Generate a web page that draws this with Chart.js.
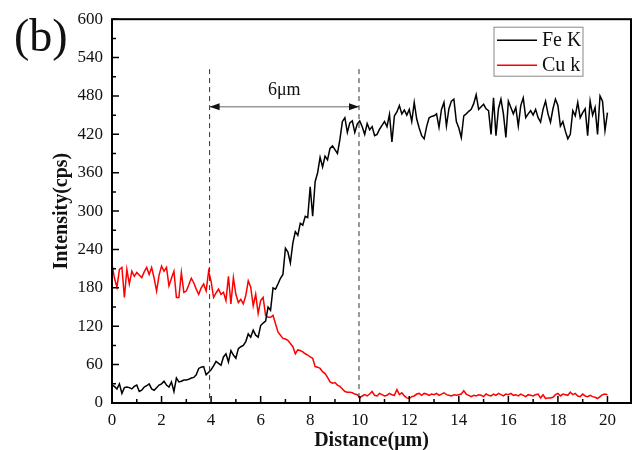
<!DOCTYPE html>
<html lang="en">
<head>
  <meta charset="UTF-8">
  <title>Fe K / Cu k line scan</title>
  <script src="https://cdn.jsdelivr.net/npm/chart.js"></script>
  <style>
    body { margin: 0; background: white; }
    .wrap { position: relative; width: 633px; height: 450px; }
    .panel-label { position: absolute; left: 14px; top: 13px; font-family: 'Liberation Serif', serif; font-size: 46px; line-height: 1; color: #111; }
  </style>
</head>
<body>
  <div class="wrap">
    <canvas id="scanChart" width="633" height="450"></canvas>
    <div class="panel-label">(b)</div>
  </div>

  <script>
    // x grid of the line scan, 0.1 µm steps
    const distance = Array.from({ length: 201 }, (_, i) => +(i * 0.1).toFixed(1));

    const feK = [
      28, 26, 22, 30, 15, 24, 25, 24, 22, 26,
      28, 18, 20, 25, 27, 30, 22, 20, 24, 28,
      30, 34, 28, 25, 33, 18, 39, 33, 34, 36,
      36, 37, 39, 40, 44, 54, 56, 57, 44, 48,
      52, 58, 65, 62, 59, 72, 77, 64, 82, 75,
      70, 85, 88, 90, 96, 108, 103, 114, 106, 103,
      121, 125, 128, 150, 145, 180, 178, 186, 195, 201,
      242, 236, 219, 250, 268, 262, 281, 278, 292, 290,
      338, 292, 346, 360, 384, 369, 386, 380, 398, 402,
      396, 390, 412, 440, 446, 423, 438, 441, 423, 436,
      441, 432, 420, 437, 427, 432, 418, 420, 428, 434,
      440, 432, 451, 408, 449, 455, 465, 452, 458, 450,
      459, 440, 470, 444, 430, 418, 413, 432, 446, 448,
      449, 452, 431, 459, 470, 433, 460, 472, 475, 440,
      430, 415, 449, 452, 456, 459, 468, 482, 459, 463,
      467, 460, 457, 420, 477, 418, 460, 475, 452, 415,
      472, 462, 452, 462, 433, 465, 477, 446, 452, 457,
      450, 459, 446, 439, 459, 472, 452, 439, 460, 475,
      465, 433, 440, 425, 413, 420, 457, 449, 470, 446,
      454, 460, 418, 472, 450, 462, 420, 480, 472, 426,
      454
    ];

    const cuK = [
      217, 195, 181, 209, 212, 165, 209, 186, 206, 198,
      204, 200, 196, 205, 212, 201, 212, 195, 175, 200,
      214, 206, 212, 183, 195, 206, 165, 165, 204, 173,
      175, 185, 195, 188, 178, 170, 180, 186, 175, 206,
      190, 165, 172, 178, 170, 173, 160, 198, 155, 196,
      170, 157, 162, 155, 168, 191, 181, 152, 170, 140,
      160, 165, 137, 134, 134, 137, 124, 111, 106, 101,
      100, 98, 93, 88, 77, 83, 82, 80, 77, 75,
      72, 70, 57, 56, 54, 49, 46, 40, 33, 31,
      32, 28, 26, 22, 18, 17, 17, 16, 14, 13,
      8, 11, 13, 11, 14, 18, 12, 11, 15, 13,
      11, 12, 15, 13, 12, 21, 13, 16, 11, 8,
      7, 10, 11, 14, 15, 12, 15, 14, 12, 14,
      13, 15, 12, 14, 16, 13, 12, 11, 13, 12,
      13, 14, 19, 14, 12, 10, 12, 11, 13, 12,
      10, 14, 12, 11, 14, 12, 15, 13, 11, 14,
      13, 15, 12, 13, 11, 14, 12, 10, 13, 12,
      11, 13, 14, 8, 13, 7, 8, 8, 9, 13,
      15, 11, 14, 13, 12, 17, 13, 15, 11, 10,
      14, 11, 10, 12, 10, 9, 7, 10, 13, 14,
      13
    ];

    const xTicks = [0, 2, 4, 6, 8, 10, 12, 14, 16, 18, 20];
    const yTicks = [0, 60, 120, 180, 240, 300, 360, 420, 480, 540, 600];
    const seriesNames = ['Fe K', 'Cu k'];
    const seriesColors = ['#000000', '#ff0000'];

    // interface markers and the 6 µm span
    const boundaries = [3.94, 9.97];
    const boundaryTop = 522;
    const spanLevel = 463;
    const spanLabel = '6μm';

    const serif = "'Liberation Serif', 'Times New Roman', serif";

    const framePlugin = {
      id: 'frame',
      afterDatasetsDraw(chart) {
        const { ctx, chartArea: a, scales: { x, y } } = chart;
        ctx.save();

        // dashed boundaries
        ctx.strokeStyle = '#333';
        ctx.lineWidth = 1;
        ctx.setLineDash([5, 4]);
        boundaries.forEach(b => {
          const px = x.getPixelForValue(b);
          ctx.beginPath();
          ctx.moveTo(px, y.getPixelForValue(boundaryTop));
          ctx.lineTo(px, y.getPixelForValue(0));
          ctx.stroke();
        });
        ctx.setLineDash([]);

        // double arrow
        const ay = y.getPixelForValue(spanLevel);
        const x1 = x.getPixelForValue(boundaries[0]);
        const x2 = x.getPixelForValue(boundaries[1]);
        ctx.strokeStyle = '#666';
        ctx.fillStyle = '#111';
        ctx.beginPath();
        ctx.moveTo(x1, ay);
        ctx.lineTo(x2, ay);
        ctx.stroke();
        ctx.beginPath();
        ctx.moveTo(x1, ay); ctx.lineTo(x1 + 10, ay - 3.5); ctx.lineTo(x1 + 10, ay + 3.5); ctx.closePath();
        ctx.moveTo(x2, ay); ctx.lineTo(x2 - 10, ay - 3.5); ctx.lineTo(x2 - 10, ay + 3.5); ctx.closePath();
        ctx.fill();

        ctx.font = '18px ' + serif;
        ctx.fillStyle = '#111';
        ctx.textAlign = 'center';
        ctx.textBaseline = 'bottom';
        ctx.fillText(spanLabel, (x1 + x2) / 2, ay - 8);

        // box around plot
        ctx.strokeStyle = '#000';
        ctx.lineWidth = 2;
        ctx.strokeRect(a.left, a.top, a.right - a.left, a.bottom - a.top);

        // inward ticks, bottom and left only
        ctx.lineWidth = 1.5;
        ctx.beginPath();
        for (let v = 0; v <= 20; v++) {
          const px = x.getPixelForValue(v);
          const len = v % 2 === 0 ? 7 : 4;
          ctx.moveTo(px, a.bottom);
          ctx.lineTo(px, a.bottom - len);
        }
        for (let v = 0; v <= 600; v += 30) {
          const py = y.getPixelForValue(v);
          const len = v % 60 === 0 ? 7 : 4;
          ctx.moveTo(a.left, py);
          ctx.lineTo(a.left + len, py);
        }
        ctx.stroke();

        // legend box
        const lx = a.right - 137, ly = a.top + 8;
        ctx.strokeStyle = '#888';
        ctx.lineWidth = 1;
        ctx.strokeRect(lx, ly, 89, 49);
        ctx.font = '20px ' + serif;
        ctx.textAlign = 'left';
        ctx.textBaseline = 'middle';
        seriesNames.forEach((name, i) => {
          const ry = ly + 13 + i * 25;
          ctx.strokeStyle = seriesColors[i];
          ctx.lineWidth = 1.5;
          ctx.beginPath();
          ctx.moveTo(lx + 3, ry);
          ctx.lineTo(lx + 43, ry);
          ctx.stroke();
          ctx.fillStyle = '#111';
          ctx.fillText(name, lx + 48, ry + 1);
        });

        ctx.restore();
      }
    };

    new Chart(document.getElementById('scanChart'), {
      type: 'line',
      data: {
        datasets: [
          {
            label: seriesNames[0],
            data: distance.map((d, i) => ({ x: d, y: feK[i] })),
            borderColor: seriesColors[0],
            borderWidth: 1.5,
            pointRadius: 0,
            tension: 0
          },
          {
            label: seriesNames[1],
            data: distance.map((d, i) => ({ x: d, y: cuK[i] })),
            borderColor: seriesColors[1],
            borderWidth: 1.5,
            pointRadius: 0,
            tension: 0
          }
        ]
      },
      options: {
        responsive: false,
        animation: false,
        devicePixelRatio: 1,
        layout: { padding: { top: 16, right: 2, left: 0, bottom: 0 } },
        plugins: {
          legend: { display: false },
          tooltip: { enabled: false }
        },
        scales: {
          x: {
            type: 'linear',
            min: 0,
            max: 20.95,
            grid: { display: false, drawTicks: false },
            border: { display: false },
            afterBuildTicks: s => { s.ticks = xTicks.map(v => ({ value: v })); },
            afterFit: s => { s.height = 47; },
            ticks: { color: '#111', font: { family: serif, size: 17 }, padding: 7, maxRotation: 0 },
            title: {
              display: true,
              text: 'Distance(μm)',
              color: '#111',
              font: { family: serif, size: 20, weight: 'bold' },
              padding: { top: 0, bottom: -3 }
            }
          },
          y: {
            min: 0,
            max: 600,
            grid: { display: false, drawTicks: false },
            border: { display: false },
            afterBuildTicks: s => { s.ticks = yTicks.map(v => ({ value: v })); },
            afterFit: s => { s.width = 112; },
            ticks: { color: '#111', font: { family: serif, size: 17 }, padding: 9 },
            title: {
              display: true,
              text: 'Intensity(cps)',
              color: '#111',
              font: { family: serif, size: 20, weight: 'bold' },
              padding: { top: 50, bottom: 0 }
            }
          }
        }
      },
      plugins: [framePlugin]
    });
  </script>
</body>
</html>
